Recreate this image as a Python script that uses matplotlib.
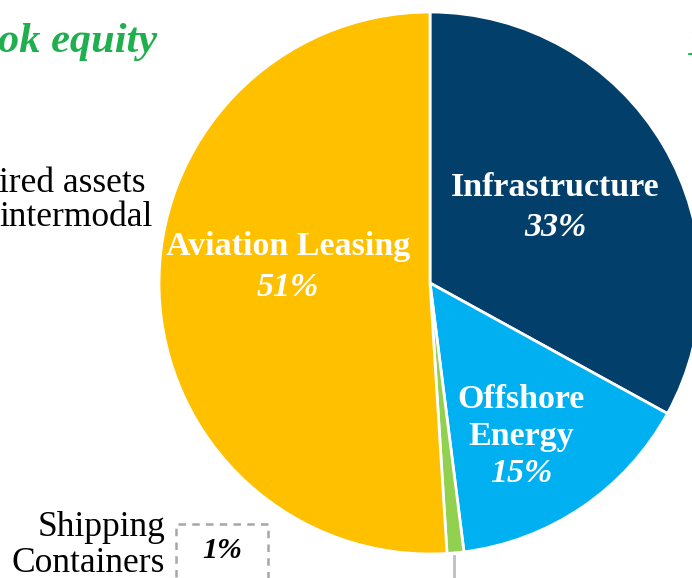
import matplotlib.pyplot as plt
from matplotlib.patches import Rectangle

# Segment data
segments = ['Infrastructure', 'Offshore Energy', 'Shipping Containers', 'Aviation Leasing']
shares = [33, 15, 1, 51]
colors = ['#023F6B', '#00B0F0', '#92D050', '#FFC000']

W, H = 692, 578
fig = plt.figure(figsize=(W / 100, H / 100), dpi=100)
ax = fig.add_axes([0, 0, 1, 1])

# pie in pixel coordinates (y up), partly cut off on the right
ax.pie(shares, colors=colors, startangle=90, counterclock=False,
       center=(430, H - 283), radius=271,
       wedgeprops=dict(edgecolor='white', linewidth=2))
ax.set_xlim(0, W)
ax.set_ylim(0, H)
ax.set_aspect('equal')
ax.axis('off')

serif = ['Liberation Serif', 'DejaVu Serif']
lab = dict(color='white', fontweight='bold', fontsize=24.5, ha='center', va='center', family=serif)
pct = dict(lab, fontstyle='italic')

ax.text(555, H - 188, 'Infrastructure', **lab)
ax.text(555, H - 227, '33%', **pct)
ax.text(288, H - 247, 'Aviation Leasing', **lab)
ax.text(288, H - 288, '51%', **pct)
ax.text(521, H - 399, 'Offshore', **lab)
ax.text(521, H - 437, 'Energy', **lab)
ax.text(521, H - 474, '15%', **pct)

# cropped text around the chart
ax.text(-2, H - 42, 'ok equity', color='#1FAF4F', fontsize=30.5, fontweight='bold',
        fontstyle='italic', ha='left', va='center', family=serif)
ax.text(687, H - 45, '1', color='#1FAF4F', fontsize=30.5, fontweight='bold',
        fontstyle='italic', ha='left', va='center', family=serif)
ax.text(-1, H - 183, 'ired assets', color='black', fontsize=25.5, ha='left', va='center', family=serif)
ax.text(-1, H - 218, 'intermodal', color='black', fontsize=25.5, ha='left', va='center', family=serif)

# small slice callout
ax.text(165, H - 527, 'Shipping', color='black', fontsize=25.5, ha='right', va='center', family=serif)
ax.text(165, H - 563, 'Containers', color='black', fontsize=25.5, ha='right', va='center', family=serif)
ax.add_patch(Rectangle((176, -10), 92, H - 524 + 10, fill=False, edgecolor='#A6A6A6',
                       linestyle=(0, (3, 2.5)), linewidth=1.8, clip_on=True))
ax.text(222, H - 551, '1%', color='black', fontsize=21.5, fontweight='bold',
        fontstyle='italic', ha='center', va='center', family=serif)
ax.plot([454, 454], [H - 556, -5], color='#BFBFBF', linewidth=2)

fig.savefig('out.png', dpi=100)
